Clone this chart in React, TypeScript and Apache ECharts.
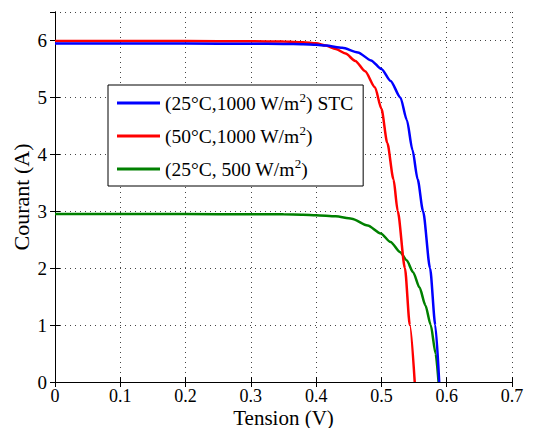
import React, { useEffect, useRef } from "react";
import * as echarts from "echarts";

const seriesNames = ["(25°C,1000 W/m2) STC", "(50°C,1000 W/m2)", "(25°C, 500 W/m2)"];
const seriesColors = ["#0000ff", "#ff0000", "#008000"];

const stcV = [0, 0.1, 0.2, 0.3, 0.35, 0.38, 0.4, 0.415, 0.44, 0.464, 0.484, 0.5, 0.514, 0.529, 0.539, 0.5475, 0.5555, 0.5638, 0.5745, 0.5825, 0.5885];
const stcI = [5.945, 5.945, 5.945, 5.943, 5.94, 5.935, 5.925, 5.91, 5.87, 5.79, 5.65, 5.5, 5.29, 5.0, 4.6, 4.08, 3.56, 3.0, 2.0, 1.0, 0];

const hotV = [0, 0.1, 0.2, 0.3, 0.35, 0.38, 0.4, 0.415, 0.43, 0.445, 0.46, 0.475, 0.49, 0.5, 0.509, 0.5185, 0.525, 0.536, 0.5435, 0.551];
const hotI = [5.99, 5.99, 5.99, 5.985, 5.98, 5.97, 5.95, 5.91, 5.85, 5.77, 5.64, 5.46, 5.18, 4.8, 4.2, 3.56, 3.0, 2.0, 1.0, 0];

const lowV = [0, 0.1, 0.2, 0.3, 0.35, 0.38, 0.4, 0.43, 0.4545, 0.479, 0.499, 0.514, 0.5287, 0.5386, 0.5485, 0.5584, 0.5673, 0.5755, 0.583, 0.5875];
const lowI = [2.95, 2.95, 2.95, 2.948, 2.945, 2.94, 2.93, 2.91, 2.87, 2.75, 2.61, 2.46, 2.28, 2.14, 1.93, 1.66, 1.35, 1.0, 0.5, 0];

const xMin = 0, xMax = 0.7, xStep = 0.1;
const yMin = 0, yMax = 6.5, yStep = 1;

const FONT = "Liberation Serif";

function pairs(v: number[], i: number[]) {
  return v.map((x, k) => [x, i[k]]);
}

export default function App() {
  const ref = useRef<HTMLDivElement>(null);
  useEffect(() => {
    if (!ref.current) return;
    const chart = echarts.init(ref.current, null, { renderer: "svg" });
    const data = [pairs(stcV, stcI), pairs(hotV, hotI), pairs(lowV, lowI)];
    const tick = { show: true, inside: true, length: 5, lineStyle: { color: "#000", width: 1 } };
    const line = { show: true, lineStyle: { color: "#000", width: 1 } };
    const split = { show: true, lineStyle: { color: "#444", width: 1, type: [1, 4] as any } };
    chart.setOption({
      animation: false,
      backgroundColor: "#fff",
      textStyle: { fontFamily: FONT },
      grid: { left: 55, right: 24, top: 12, bottom: 46, containLabel: false, outerBoundsMode: "none" },
      legend: {
        left: 108,
        top: 85,
        orient: "vertical",
        data: seriesNames,
        icon: "rect",
        backgroundColor: "#fff",
        borderColor: "#000",
        borderWidth: 1,
        borderRadius: 0,
        padding: [6, 10, 5, 9],
        itemGap: 9,
        itemWidth: 43,
        itemHeight: 3,
        itemTextGap: 5,
        formatter: (name: string) => name.replace("m2", "m{sup|2}"),
        textStyle: {
          fontFamily: FONT,
          fontSize: 19.5,
          color: "#000",
          lineHeight: 24,
          rich: {
            sup: { fontFamily: FONT, fontSize: 13, color: "#000", verticalAlign: "top", lineHeight: 14 },
          },
        },
      },
      xAxis: [
        {
          type: "value",
          min: xMin,
          max: xMax,
          interval: xStep,
          position: "bottom",
          name: "Tension (V)",
          nameLocation: "middle",
          nameGap: 25,
          nameMoveOverlap: false,
          nameTextStyle: { fontFamily: FONT, fontSize: 21, color: "#000" },
          axisLine: line,
          axisTick: tick,
          splitLine: split,
          axisLabel: { fontFamily: FONT, fontSize: 18, color: "#000", margin: 5 },
        },
        {
          type: "value",
          min: xMin,
          max: xMax,
          interval: xStep,
          position: "top",
          axisLine: line,
          axisTick: tick,
          splitLine: { show: false },
          axisLabel: { show: false },
        },
      ],
      yAxis: [
        {
          type: "value",
          min: yMin,
          max: yMax,
          interval: yStep,
          position: "left",
          name: "Courant (A)",
          nameLocation: "middle",
          nameGap: 23,
          nameMoveOverlap: false,
          nameTextStyle: { fontFamily: FONT, fontSize: 22, color: "#000" },
          axisLine: line,
          axisTick: tick,
          splitLine: split,
          axisLabel: { fontFamily: FONT, fontSize: 19, color: "#000", margin: 8, showMaxLabel: false },
        },
        {
          type: "value",
          min: yMin,
          max: yMax,
          interval: yStep,
          position: "right",
          axisLine: line,
          axisTick: tick,
          splitLine: { show: false },
          axisLabel: { show: false },
        },
      ],
      series: data.map((d, k) => ({
        name: seriesNames[k],
        type: "line",
        data: d,
        xAxisIndex: 0,
        yAxisIndex: 0,
        symbol: "none",
        smooth: 0.25,
        smoothMonotone: "x",
        lineStyle: { color: seriesColors[k], width: 2.5 },
        itemStyle: { color: seriesColors[k] },
        z: 5 - k,
      })),
    });
    return () => chart.dispose();
  }, []);
  return (
    <div
      ref={ref}
      style={{ position: "absolute", left: 0, top: 0, width: 536, height: 428 }}
    />
  );
}
